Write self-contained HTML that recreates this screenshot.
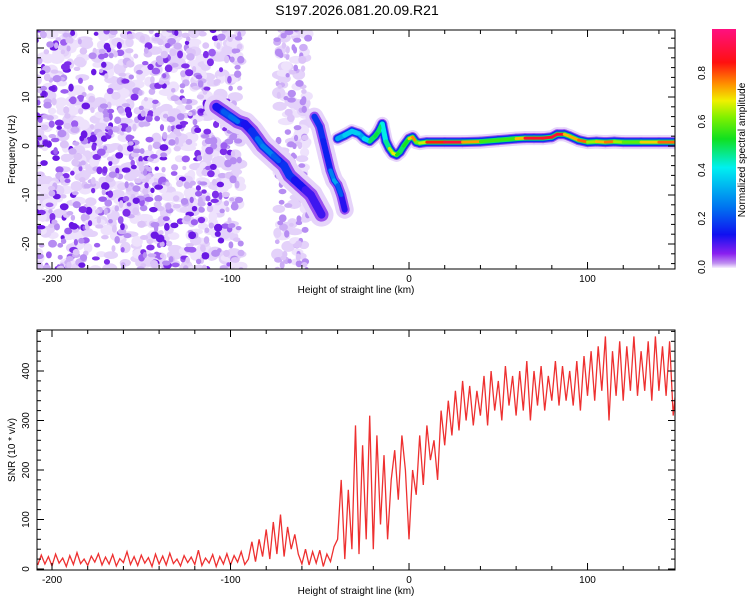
<!DOCTYPE html>
<html><head><meta charset="utf-8"><style>
html,body{margin:0;padding:0;background:#fff;}
svg{display:block;font-family:"Liberation Sans",sans-serif;}
</style></head><body>
<svg id="chart" width="750" height="600" viewBox="0 0 750 600">
<defs>
<linearGradient id="cgrad" x1="0" y1="1" x2="0" y2="0">
<stop offset="0" stop-color="#f8f0ff"/><stop offset="0.02" stop-color="#c090f0"/><stop offset="0.06" stop-color="#8a20f0"/>
<stop offset="0.14" stop-color="#1010f0"/><stop offset="0.25" stop-color="#0070f0"/><stop offset="0.42" stop-color="#00f0f0"/>
<stop offset="0.54" stop-color="#10e020"/><stop offset="0.63" stop-color="#80f000"/><stop offset="0.70" stop-color="#f0f000"/>
<stop offset="0.77" stop-color="#ff9000"/><stop offset="0.86" stop-color="#ff1010"/><stop offset="1" stop-color="#ff1080"/>
</linearGradient>
<clipPath id="clipTop"><rect x="37" y="30" width="638" height="239"/></clipPath>
<clipPath id="clipBot"><rect x="37" y="330" width="638" height="240"/></clipPath>
</defs>
<text x="357" y="15" font-size="14" text-anchor="middle">S197.2026.081.20.09.R21</text>
<g id="top"></g>
<g id="bot"></g>
<g id="cbar">
<rect x="712" y="29" width="24" height="239" fill="url(#cgrad)"/>
<text transform="translate(745,150) rotate(-90)" font-size="10" text-anchor="middle">Normalized spectral amplitude</text>
</g>
</svg>
<script>
// ---- spectrogram ridge data ----
const ridgeH = [-40,-36,-32,-28,-25,-22,-19,-17,-15,-13,-11,-9,-7,-5,-3,0,2,4,6,10,20,30,40,50,60,65,70,75,80,83,87,90,95,100,105,110,115,120,130,140,150];
const ridgeF = [1.5,2.2,3,2.5,1.5,1,2,3,4.5,1,-0.5,-1.5,-1.8,-1.2,0,1.5,1.8,0.8,0.6,0.8,0.8,0.8,0.9,1.2,1.5,1.6,1.6,1.6,1.8,2.4,2.4,2,1.2,0.8,0.9,0.8,0.9,0.8,0.8,0.8,0.8];
const ridgeA = [0.3,0.35,0.4,0.35,0.3,0.5,0.5,0.55,0.45,0.4,0.55,0.8,0.6,0.5,0.5,0.6,0.85,0.7,0.55,0.8,0.9,0.92,0.6,0.55,0.6,0.88,0.9,0.88,0.9,0.9,0.88,0.6,0.9,0.7,0.6,0.88,0.7,0.6,0.6,0.85,0.75];
const branch1H = [-108,-104,-100,-96,-92,-88,-85,-82,-79,-76,-73,-70,-67,-64,-61,-58,-55,-52,-49];
const branch1F = [8,7,6,5,4.5,3,1.5,0,-1,-2,-3,-4,-6,-7,-8,-9,-10,-12,-14];
const branch1A = [0.12,0.15,0.3,0.2,0.12,0.15,0.2,0.3,0.25,0.3,0.15,0.18,0.25,0.12,0.15,0.12,0.1,0.12,0.1];
const branch2H = [-53,-50,-48,-46,-44,-42,-40,-38,-36];
const branch2F = [6,4,1,-2,-5,-7,-8,-10,-13];
const branch2A = [0.25,0.15,0.2,0.12,0.2,0.35,0.3,0.15,0.1];
// ---- SNR data (every 2 km from -208) ----
const snrStart = -208, snrStep = 2;
const snrValues = [
8,28,10,25,6,30,12,22,5,27, 9,33,11,20,7,26,14,31,8,24, 10,29,6,21,13,35,9,25,7,28,
12,23,5,30,10,26,8,32,11,20, 6,27,13,24,9,38,7,22,12,29, 5,25,10,31,8,27,14,35,9,
20,55,15,60,25,80,20,95,30,110,25,85,40,70,30,
10,40,8,35,12,38,5,30,15,45,
60,180,20,160,40,290,30,250,60,310,40,270,90,230,60,
180,240,140,270,200,
60,200,150,270,170,290,220,260,180,320,
250,340,270,360,280,380,300,370,290,360,
310,390,290,400,320,380,300,410,330,390,310,400,320,420,300,400,330,410,320,390,340,420,330,410,340,400,330,420,320,430,
350,440,340,450,360,470,300,440,350,460,340,450,360,470,350,440,360,460,340,470,360,450,350,460,310,380];
const xTicks = [-200,-100,0,100];
const fTicks = [-20,-10,0,10,20];
const snrTicks = [0,100,200,300,400];
const cTicks = [0.0,0.2,0.4,0.6,0.8];

const NS='http://www.w3.org/2000/svg';
function mk(tag,attrs,parent){const e=document.createElementNS(NS,tag);for(const k in attrs)e.setAttribute(k,attrs[k]);parent.appendChild(e);return e;}
const L=37,R=675,X0=-208.4,X1=149;
const xs=h=>L+(h-X0)/(X1-X0)*(R-L);
const fy=f=>146-f*4.9;
const sy=v=>569-v*0.495;
const cy=v=>267-v*242.5;
function colorOf(a){
  const st=[[0,[248,240,255]],[0.02,[192,144,240]],[0.06,[138,32,240]],[0.14,[16,16,240]],[0.25,[0,112,240]],[0.42,[0,240,240]],[0.54,[16,224,32]],[0.63,[128,240,0]],[0.70,[240,240,0]],[0.77,[255,144,0]],[0.86,[255,16,16]],[1,[255,16,128]]];
  for(let i=1;i<st.length;i++){if(a<=st[i][0]){const t=(a-st[i-1][0])/(st[i][0]-st[i-1][0]);const c=st[i-1][1].map((v,j)=>Math.round(v+(st[i][1][j]-v)*t));return `rgb(${c})`;}}
  return 'rgb(255,16,128)';
}
const topG=document.getElementById('top'), botG=document.getElementById('bot');
// background noise texture (seeded)
let seed=12345;const rnd=()=>{seed=(seed*16807)%2147483647;return seed/2147483647;};
const noiseG=mk('g',{'clip-path':'url(#clipTop)'},topG);


function noiseX(){const r=rnd();if(r<0.8)return -210+rnd()*108;if(r<0.88)return -102+rnd()*8;return -74+rnd()*18;}
for(let i=0;i<650;i++){
  const h=noiseX(),f=-26+rnd()*52;
  mk('ellipse',{cx:xs(h),cy:fy(f),rx:4+rnd()*4,ry:3+rnd()*3,fill:rnd()<0.5?'#eee2fc':'#e4d2fa'},noiseG);
}
const noiseCols=['#dcc4f8','#cdaef6','#b68cf2','#9c5ef0','#7e2eea','#6a18e4'];
for(let i=0;i<900;i++){
  const h=noiseX(),f=-26+rnd()*52;
  let ci=Math.floor(Math.pow(rnd(),1.4)*6); if(h>-100) ci=Math.min(ci,2);
  mk('ellipse',{cx:xs(h),cy:fy(f),rx:2+rnd()*2.5,ry:2+rnd()*2,fill:noiseCols[ci]},noiseG);
}
function drawRidge(H,F,A,widths,name){
  const g=mk('g',{'clip-path':'url(#clipTop)'},topG);
  
  
  const layers=[[widths[0],()=>'#e6d4fa'],[widths[1],()=>'#9a50ee'],[widths[2],a=>colorOf(Math.min(a,0.18))],[widths[3],a=>colorOf(Math.min(a,0.5))],[widths[4],a=>colorOf(a)]];
  layers.forEach(([w,cf],li)=>{
    for(let i=0;i<H.length-1;i++){
      const a=(A[i]+A[i+1])/2;
      if(li===3&&a<0.22)continue;
      if(li===4&&a<0.35)continue;
      mk('line',{x1:xs(H[i]),y1:fy(F[i]),x2:xs(H[i+1]),y2:fy(F[i+1]),stroke:cf(a),'stroke-width':w,'stroke-linecap':'round'},g);
    }
  });
}
drawRidge(branch1H,branch1F,branch1A,[24,14,8,5,2],'ridge-branch-1');
drawRidge(branch2H,branch2F,branch2A,[18,10,6,4,2],'ridge-branch-2');
drawRidge(ridgeH,ridgeF,ridgeA,[14,10,8,5,3],'main-ridge');

function axes(g,yT,yB,yfun,yticks,ylabel,minorY){
  const fr=mk('rect',{x:L,y:yT,width:R-L,height:yB-yT,fill:'none',stroke:'#000','stroke-width':1},g);
  
  
  for(let h=-200;h<=140;h+=20){const x=xs(h);const len=h%100===0?7:4;
    mk('line',{x1:x,y1:yB,x2:x,y2:yB-len,stroke:'#000'},g);mk('line',{x1:x,y1:yT,x2:x,y2:yT+len,stroke:'#000'},g);}
  xTicks.forEach(t=>{const tx=mk('text',{x:xs(t),y:yB+13,'font-size':10,'text-anchor':'middle'},g);tx.textContent=t;
    
    });
  const xl=mk('text',{x:356,y:yB+24,'font-size':10,'text-anchor':'middle'},g);xl.textContent='Height of straight line (km)';
  
  
  minorY.forEach(v=>{const y=yfun(v);if(y<yT||y>yB)return;const len=yticks.includes(v)?7:4;
    mk('line',{x1:L,y1:y,x2:L+len,y2:y,stroke:'#000'},g);mk('line',{x1:R,y1:y,x2:R-len,y2:y,stroke:'#000'},g);});
  yticks.forEach(t=>{const y=yfun(t);const tx=mk('text',{transform:`translate(29,${y}) rotate(-90)`,'font-size':10,'text-anchor':'middle'},g);tx.textContent=t;
    
    });
  const yl=mk('text',{transform:`translate(15,${(yT+yB)/2}) rotate(-90)`,'font-size':10,'text-anchor':'middle'},g);yl.textContent=ylabel;
  
  
}
const fMinor=[];for(let f=-24;f<=24;f+=2)fMinor.push(f);
axes(topG,30,269,fy,fTicks,'Frequency (Hz)',fMinor);
// SNR line
const pts=snrValues.map((v,i)=>`${xs(snrStart+i*snrStep).toFixed(1)},${sy(v).toFixed(1)}`).join(' ');
const pl=mk('polyline',{points:pts,fill:'none',stroke:'#ee3030','stroke-width':1.3,'clip-path':'url(#clipBot)'},botG);


const sMinor=[];for(let v=0;v<=480;v+=20)sMinor.push(v);
axes(botG,330,570,sy,snrTicks,'SNR (10 * v/v)',sMinor);
// colorbar ticks
const cb=document.getElementById('cbar');
cTicks.forEach(t=>{const tx=mk('text',{transform:`translate(705,${cy(t)}) rotate(-90)`,'font-size':10,'text-anchor':'middle'},cb);tx.textContent=t.toFixed(1);
  
  });
</script>
</body></html>
